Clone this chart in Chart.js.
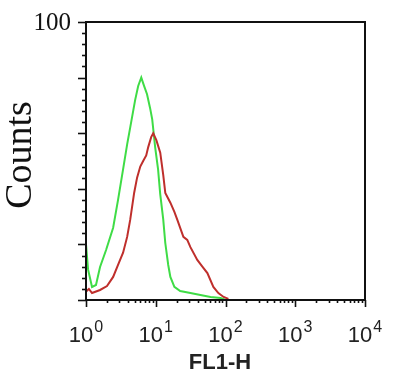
<!DOCTYPE html>
<html>
<head>
<meta charset="utf-8">
<script src="https://cdn.jsdelivr.net/npm/chart.js@4"></script>
<style>
  html, body { margin: 0; padding: 0; background: #fff; }
  #wrap { width: 400px; height: 382px; }
</style>
</head>
<body>
<div id="wrap"><canvas id="histo" width="400" height="382"></canvas></div>
<script>
// FL1-H values (log axis) and counts
const greenFL1 = [1.0, 1.07, 1.22, 1.39, 1.59, 1.94, 2.45, 2.88, 3.4, 3.89, 4.3, 5.07, 5.6, 6.2, 6.8, 7.5, 8.3, 8.9, 9.8, 10.8, 11.6, 12.8, 13.7, 15.1, 16.2, 18.5, 22.4, 31.4, 43.7, 61, 85, 100];
const greenCounts = [20, 11, 4.7, 5.4, 11.9, 18, 26, 36, 47, 56, 62, 72, 77, 80, 77, 74, 69, 65, 55, 47, 38, 29, 20.5, 12.6, 8.3, 4.7, 3.2, 2.5, 1.8, 1.1, 0.7, 0];

const redFL1 = [1.0, 1.1, 1.22, 1.59, 2.0, 2.45, 2.88, 3.4, 3.89, 4.3, 4.9, 5.4, 6.0, 6.6, 7.3, 7.8, 8.6, 9.2, 10.2, 11.6, 12.8, 13.7, 16.2, 18.5, 20.4, 24.9, 28.3, 31.4, 39.4, 46, 55, 67, 79, 94, 110];
const redCounts = [3, 4, 2.5, 3.6, 5, 8.3, 12.6, 17, 22.7, 28.8, 38.5, 44, 48, 50, 52, 55, 58.6, 60, 57.5, 53, 45, 38.5, 35, 31.7, 28.8, 22.7, 21.6, 19, 14.4, 12.2, 9.7, 4.7, 2.5, 1.1, 0.4];

const xDecades = [1, 10, 100, 1000, 10000];
const xExponents = ['0', '1', '2', '3', '4'];
const yMajorTicks = [0, 20, 40, 60, 80, 100];
const yMinorStep = 4;
const yLabel = '100';

const toPoints = (xs, ys) => xs.map((x, i) => ({ x, y: ys[i] }));

const axesPlugin = {
  id: 'flowAxes',
  afterDraw(chart) {
    const { ctx, chartArea: a } = chart;
    const xs = chart.scales.x, ys = chart.scales.y;
    ctx.save();
    ctx.strokeStyle = '#111';
    ctx.lineWidth = 2;
    ctx.strokeRect(a.left, a.top, a.right - a.left, a.bottom - a.top);

    // y ticks
    ctx.lineWidth = 1.6;
    for (let v = 0; v <= 100; v += yMinorStep) {
      const py = Math.round(ys.getPixelForValue(v)) + 0.5;
      const len = yMajorTicks.includes(v) ? 8 : 4;
      ctx.beginPath();
      ctx.moveTo(a.left, py);
      ctx.lineTo(a.left - len, py);
      ctx.stroke();
    }

    // x ticks, decades and log minors
    xDecades.forEach((d, i) => {
      const px = Math.round(xs.getPixelForValue(d)) + 0.5;
      ctx.beginPath();
      ctx.moveTo(px, a.bottom);
      ctx.lineTo(px, a.bottom + 7);
      ctx.stroke();
      if (i < xDecades.length - 1) {
        for (let m = 2; m <= 9; m++) {
          const mx = Math.round(xs.getPixelForValue(d * m)) + 0.5;
          ctx.beginPath();
          ctx.moveTo(mx, a.bottom);
          ctx.lineTo(mx, a.bottom + 3);
          ctx.stroke();
        }
      }
    });

    // x tick labels with superscripts
    ctx.fillStyle = '#222';
    ctx.textBaseline = 'alphabetic';
    xDecades.forEach((d, i) => {
      const px = xs.getPixelForValue(d);
      ctx.font = '22px "Liberation Sans", Arial, sans-serif';
      const w1 = ctx.measureText('10').width;
      ctx.font = '16px "Liberation Sans", Arial, sans-serif';
      const w2 = ctx.measureText(xExponents[i]).width;
      const x0 = px - (w1 + w2 + 1) / 2;
      ctx.font = '22px "Liberation Sans", Arial, sans-serif';
      ctx.textAlign = 'left';
      ctx.fillText('10', x0, 342);
      ctx.font = '16px "Liberation Sans", Arial, sans-serif';
      ctx.fillText(xExponents[i], x0 + w1 + 1, 332);
    });

    ctx.font = 'bold 22px "Liberation Sans", Arial, sans-serif';
    ctx.textAlign = 'center';
    ctx.fillText('FL1-H', 220, 369);

    // y label and title
    ctx.fillStyle = '#111';
    ctx.font = '25px "Liberation Serif", "Times New Roman", serif';
    ctx.textAlign = 'right';
    ctx.textBaseline = 'middle';
    ctx.fillText(yLabel, 71, ys.getPixelForValue(100) + 1);

    ctx.translate(21, 155);
    ctx.rotate(-Math.PI / 2);
    ctx.textAlign = 'center';
    ctx.font = '38px "Liberation Serif", "Times New Roman", serif';
    ctx.fillText('Counts', 0, 0);
    ctx.restore();
  }
};

new Chart(document.getElementById('histo'), {
  type: 'line',
  data: {
    datasets: [
      { label: 'Isotype', data: toPoints(greenFL1, greenCounts), borderColor: '#3fdc46', borderWidth: 2, pointRadius: 0, tension: 0, order: 2 },
      { label: 'Sample', data: toPoints(redFL1, redCounts), borderColor: '#bf2f2c', borderWidth: 2, pointRadius: 0, tension: 0, order: 1 }
    ]
  },
  options: {
    responsive: false,
    animation: false,
    layout: { padding: { left: 86, top: 22, right: 35, bottom: 82 } },
    plugins: { legend: { display: false }, tooltip: { enabled: false } },
    scales: {
      x: { type: 'logarithmic', min: 1, max: 10000, display: false },
      y: { type: 'linear', min: 0, max: 100, display: false }
    }
  },
  plugins: [axesPlugin]
});
</script>
</body>
</html>
